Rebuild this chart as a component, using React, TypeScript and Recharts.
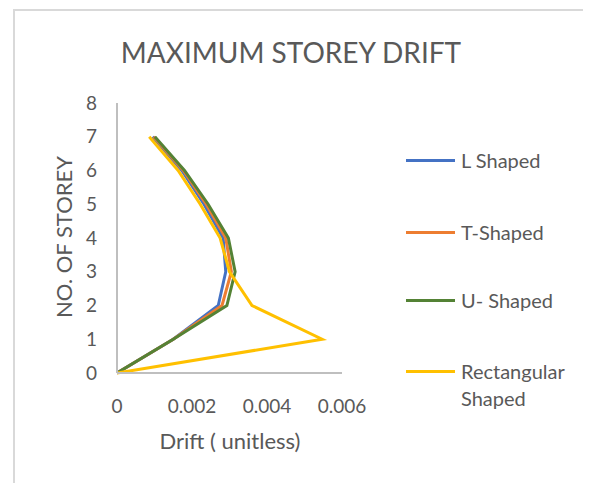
// 층별 최대 층간변위 차트 (Recharts LineChart, vertical layout)
import React from "react";
import { LineChart, Line, XAxis, YAxis } from "recharts";

const storeys = [0, 1, 2, 3, 4, 5, 6, 7];
const lShaped = [0, 0.0015, 0.0027, 0.0029, 0.00283, 0.00232, 0.00173, 0.00095];
const tShaped = [0, 0.0015, 0.0028, 0.00305, 0.0029, 0.00238, 0.00177, 0.00098];
const uShaped = [0, 0.0015, 0.00293, 0.00315, 0.00297, 0.00243, 0.0018, 0.00101];
const rectShaped = [0, 0.00547, 0.0036, 0.003, 0.00275, 0.00222, 0.00163, 0.00086];

const xTicks = [0, 0.002, 0.004, 0.006];
const yTicks = [0, 1, 2, 3, 4, 5, 6, 7, 8];

const series = [
  { key: "L", name: "L Shaped", color: "#4472C4" },
  { key: "T", name: "T-Shaped", color: "#ED7D31" },
  { key: "U", name: "U- Shaped", color: "#548235" },
  { key: "R", name: "Rectangular Shaped", color: "#FFC000" },
];

const FONT = "Lato, 'Open Sans', sans-serif";
const TEXT = "#595959";

const data = storeys.map((s, i) => ({
  storey: s,
  L: lShaped[i],
  T: tShaped[i],
  U: uShaped[i],
  R: rectShaped[i],
}));

// legend row centres (px from top of chart box)
const legendRows = [152, 224, 292, 363];

function LegendBox() {
  return (
    <div style={{ position: "absolute", left: 398, top: 0 }}>
      {series.map((s, i) => (
        <div
          key={s.key}
          style={{
            position: "absolute",
            left: 0,
            top: legendRows[i] - 13,
            display: "flex",
            alignItems: "flex-start",
          }}
        >
          <div style={{ width: 49, height: 3, background: s.color, marginTop: 12, marginRight: 6 }} />
          <div style={{ width: 125, fontSize: 20, lineHeight: "27px", color: TEXT }}>{s.name}</div>
        </div>
      ))}
    </div>
  );
}

export default function App() {
  return (
    <div style={{ position: "relative", width: 583, height: 475, fontFamily: FONT, background: "#fff" }}>
      <div
        style={{
          position: "absolute",
          left: 5,
          top: 1,
          width: 600,
          height: 500,
          borderLeft: "2px solid #d9d9d9",
          borderTop: "2px solid #d9d9d9",
        }}
      />
      <div
        style={{
          position: "absolute",
          left: 283,
          top: 44,
          transform: "translate(-50%, -50%)",
          fontSize: 28,
          color: TEXT,
          whiteSpace: "nowrap",
        }}
      >
        MAXIMUM STOREY DRIFT
      </div>
      <div
        style={{
          position: "absolute",
          left: 55,
          top: 229,
          transform: "translate(-50%, -50%) rotate(-90deg)",
          fontSize: 22,
          color: TEXT,
          whiteSpace: "nowrap",
        }}
      >
        NO. OF STOREY
      </div>
      <div
        style={{
          position: "absolute",
          left: 222,
          top: 432,
          transform: "translate(-50%, -50%)",
          fontSize: 22,
          color: TEXT,
          whiteSpace: "nowrap",
        }}
      >
        Drift ( unitless)
      </div>
      <LegendBox />
      <LineChart
        width={583}
        height={475}
        data={data}
        layout="vertical"
        margin={{ top: 95, right: 249, bottom: 80, left: 69 }}
        style={{ position: "absolute", left: 0, top: 0 }}
      >
        <XAxis
          type="number"
          domain={[0, 0.006]}
          ticks={xTicks}
          tickFormatter={(v: number) => (v === 0 ? "0" : v.toFixed(3))}
          axisLine={{ stroke: "#bfbfbf", strokeWidth: 2 }}
          tickLine={false}
          tickMargin={21}
          height={30}
          tick={{ fill: TEXT, fontSize: 19, fontFamily: FONT }}
          allowDataOverflow
        />
        <YAxis
          type="number"
          dataKey="storey"
          domain={[0, 8]}
          ticks={yTicks}
          reversed
          axisLine={{ stroke: "#bfbfbf", strokeWidth: 2 }}
          tickLine={false}
          tickMargin={14}
          width={40}
          tick={{ fill: TEXT, fontSize: 19, fontFamily: FONT }}
        />
        {series.map((s) => (
          <Line
            key={s.key}
            dataKey={s.key}
            name={s.name}
            stroke={s.color}
            strokeWidth={3}
            dot={false}
            isAnimationActive={false}
          />
        ))}
      </LineChart>
    </div>
  );
}
